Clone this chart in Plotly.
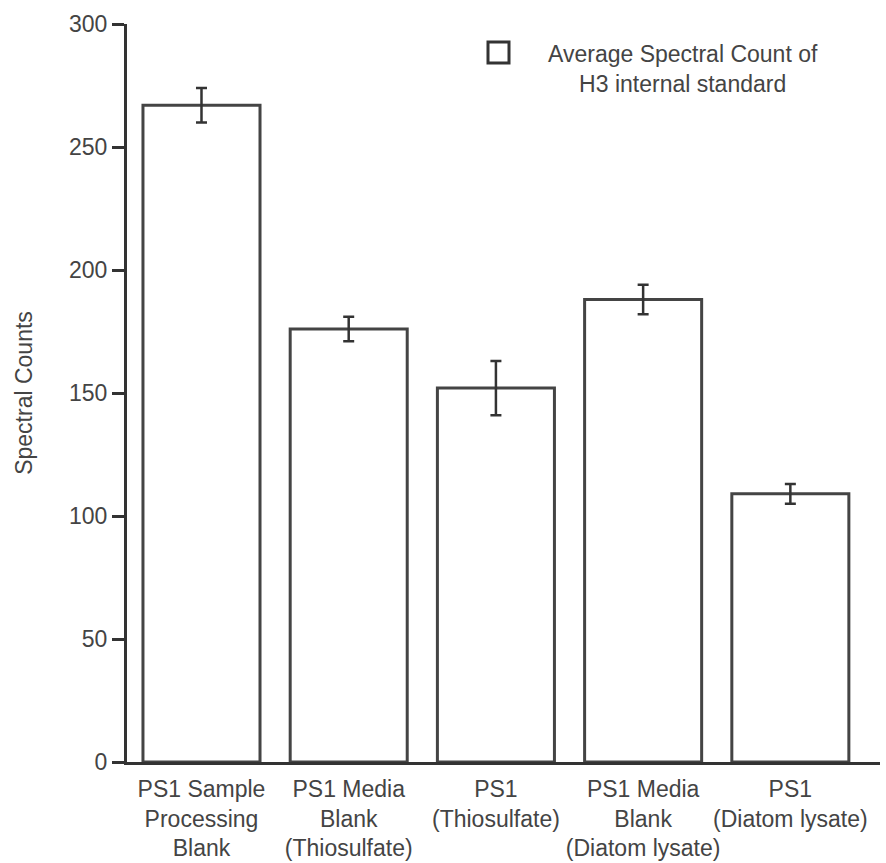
import plotly.graph_objects as go

# Average spectral counts of the H3 internal standard per sample
categories = [
    "PS1 Sample<br>Processing<br>Blank",
    "PS1 Media<br>Blank<br>(Thiosulfate)",
    "PS1<br>(Thiosulfate)",
    "PS1 Media<br>Blank<br>(Diatom lysate)",
    "PS1<br>(Diatom lysate)",
]
spectral_counts = [267, 176, 152, 188, 109]
count_errors = [7, 5, 11, 6, 4]
y_ticks = [0, 50, 100, 150, 200, 250, 300]

W, H = 886, 863
L, R, T, B = 127, 6, 24, 101
plot_w = W - L - R
plot_h = H - T - B

FONT = "Liberation Sans, Arial, sans-serif"
TEXT = "#444444"
LINE = "#333333"

positions = list(range(len(categories)))

fig = go.Figure()
fig.add_trace(go.Bar(
    x=positions,
    y=spectral_counts,
    width=0.795,
    marker=dict(color="white", line=dict(color="#444444", width=3)),
    error_y=dict(type="data", array=count_errors, visible=True,
                 color="#333333", thickness=2.5, width=5.5),
    showlegend=False,
))


def px_to_paper(px, py):
    return (px - L) / plot_w, (H - B - py) / plot_h


# Legend key: open square with two-line caption
bx0, by1 = px_to_paper(488, 42)
bx1, by0 = px_to_paper(509, 63)
fig.add_shape(type="rect", xref="paper", yref="paper",
              x0=bx0, x1=bx1, y0=by0, y1=by1,
              line=dict(color="#333333", width=3), fillcolor="white")
tx, ty = px_to_paper(683, 69)
fig.add_annotation(xref="paper", yref="paper", x=tx, y=ty,
                   text="Average Spectral Count of<br>H3 internal standard",
                   showarrow=False, align="center",
                   xanchor="center", yanchor="middle",
                   font=dict(family=FONT, size=23, color=TEXT))

fig.update_layout(
    width=W, height=H,
    margin=dict(l=L, r=R, t=T, b=B),
    paper_bgcolor="white", plot_bgcolor="white",
    font=dict(family=FONT, size=23, color=TEXT),
    xaxis=dict(
        range=[-0.506, 4.609],
        tickmode="array", tickvals=positions, ticktext=categories,
        tickangle=0, ticks="", showgrid=False, zeroline=False,
        showline=True, linecolor=LINE, linewidth=3,
        ticklabelstandoff=4, automargin=False,
        tickfont=dict(family=FONT, size=23, color=TEXT),
    ),
    yaxis=dict(
        range=[0, 300],
        tickmode="array", tickvals=y_ticks,
        ticks="outside", ticklen=12, tickwidth=3, tickcolor=LINE,
        showgrid=False, zeroline=False,
        showline=True, linecolor=LINE, linewidth=3,
        automargin=False,
        tickfont=dict(family=FONT, size=23, color=TEXT),
        title=dict(text="Spectral Counts", standoff=30,
                   font=dict(family=FONT, size=23, color=TEXT)),
    ),
)

fig.write_html("out.html")
